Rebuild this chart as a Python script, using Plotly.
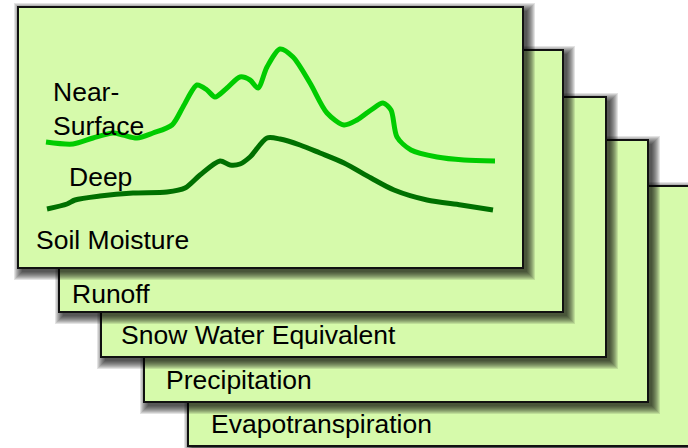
import plotly.graph_objects as go

# ---- data ----
layer_labels = ["Soil Moisture", "Runoff", "Snow Water Equivalent", "Precipitation", "Evapotranspiration"]
near_surface_t = [46, 73, 93, 113, 123, 137, 153, 172, 183, 197, 207, 215, 227, 240, 250, 258, 267, 280, 293, 310,
                  327, 344, 357, 371, 383, 391, 397, 411, 437, 464, 495]
near_surface_v = [142, 144, 138, 133, 135, 138, 133, 125, 107, 85, 90, 97, 88, 77, 80, 88, 67, 49, 57, 83,
                  113, 125, 120, 110, 103, 110, 137, 150, 157, 160, 161]
deep_t = [47, 67, 75, 100, 133, 167, 185, 200, 220, 230, 240, 250, 267, 280, 300, 320, 344, 371, 394, 427, 461, 493]
deep_v = [209, 204, 200, 196, 193, 192, 188, 175, 161, 165, 164, 157, 138, 139, 145, 153, 163, 178, 190, 200, 205, 210]
series_labels = ["Near-<br>Surface", "Deep"]

# ---- layout geometry (pixels) ----
W, H = 688, 448
cards = [  # x0, y0, x1, y1  (front to back)
    (18, 7, 523, 268),
    (59, 50, 563, 312),
    (101, 97, 606, 357),
    (144, 140, 648, 402),
    (188, 186, 705, 446),
]
label_pos = [(35, 248), (71, 302), (120, 343), (165, 388), (210, 432)]
FILL = "#d6faab"
FS = 26.5
FONT = dict(family="Liberation Sans, Arial", size=FS, color="black")

shapes = []
for i in reversed(range(len(cards))):
    x0, y0, x1, y1 = cards[i]
    # soft drop shadow
    for e in range(8, -1, -1):
        shapes.append(dict(type="rect", xref="x", yref="y", layer="below",
                           x0=x0 + 4 - e, y0=y0 + 4 - e, x1=x1 + 4 + e, y1=y1 + 4 + e,
                           fillcolor="rgba(0,0,0,0.11)", line=dict(width=0)))
    shapes.append(dict(type="rect", xref="x", yref="y", layer="below",
                       x0=x0, y0=y0, x1=x1, y1=y1,
                       fillcolor=FILL, line=dict(color="#111111", width=2)))

fig = go.Figure()
fig.add_trace(go.Scatter(x=near_surface_t, y=near_surface_v, mode="lines",
                         line=dict(color="#00cc00", width=5, shape="spline", smoothing=0.8),
                         hoverinfo="skip", showlegend=False))
fig.add_trace(go.Scatter(x=deep_t, y=deep_v, mode="lines",
                         line=dict(color="#007000", width=5, shape="spline", smoothing=0.8),
                         hoverinfo="skip", showlegend=False))

annotations = []
for lab, (x, yb) in zip(layer_labels, label_pos):
    annotations.append(dict(x=x, y=yb - 8.5, text=lab, xanchor="left", yanchor="middle",
                            showarrow=False, borderpad=0, font=FONT))
annotations.append(dict(x=52, y=117 - 8.5, text=series_labels[0], xanchor="left", yanchor="middle",
                        showarrow=False, borderpad=0, align="left", font=FONT))
annotations.append(dict(x=68, y=185 - 8.5, text=series_labels[1], xanchor="left", yanchor="middle",
                        showarrow=False, borderpad=0, font=FONT))

fig.update_layout(
    width=W, height=H, autosize=False,
    margin=dict(l=0, r=0, t=0, b=0),
    paper_bgcolor="white", plot_bgcolor="white",
    xaxis=dict(range=[0, W], visible=False, fixedrange=True),
    yaxis=dict(range=[H, 0], visible=False, fixedrange=True),
    shapes=shapes, annotations=annotations,
)
fig.write_html("out.html", config={"displayModeBar": False},
               post_script="document.body.style.margin='0';")
